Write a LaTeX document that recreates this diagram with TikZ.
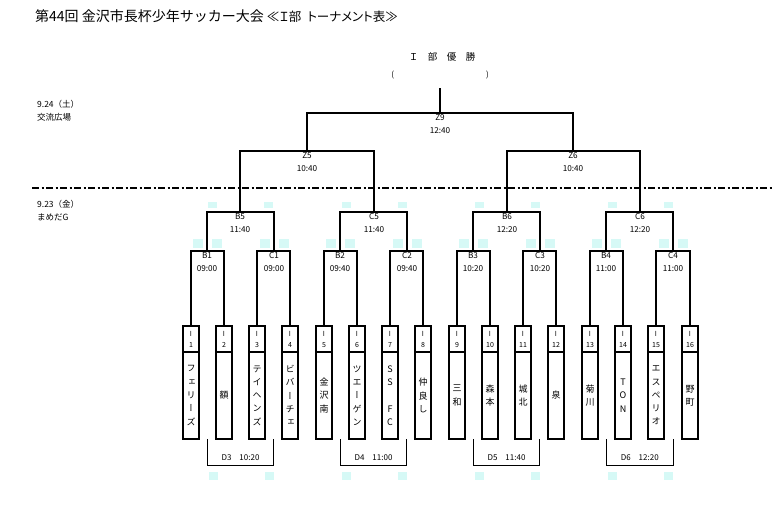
\documentclass[tikz,border=0pt]{standalone}
\usepackage{fontspec}
\setmainfont{Noto Sans CJK JP}
\newfontfamily\tatefont[RawFeature=+vert]{Noto Sans CJK JP}
\newfontfamily\propfont[RawFeature=+palt]{Noto Sans CJK JP}
\usetikzlibrary{calc}
\usetikzlibrary{backgrounds}
\definecolor{blotcyan}{RGB}{214,249,246}

\tikzset{
 match/.style={anchor=north,inner xsep=0pt,inner ysep=1.5pt,align=center,font=\fontsize{8.2}{13}\selectfont},
 numbox/.style={draw,line width=2pt,outer sep=0pt,minimum width=16pt,minimum height=26pt,inner sep=0pt,align=center,font=\fontsize{7}{11}\selectfont},
 namebox/.style={draw,line width=2pt,outer sep=0pt,minimum width=16pt,minimum height=87pt,inner sep=0pt,align=center,font=\tatefont\fontsize{9}{13.3}\selectfont},
 dlabel/.style={inner sep=0pt,font=\fontsize{8}{10}\selectfont},
 bracket/.style={black,line width=2pt},
 dbracket/.style={black,line width=1pt},
 blot/.style={fill=blotcyan,draw=none},
}

\begin{document}
\begin{tikzpicture}[x=1pt,y=-1pt]
\useasboundingbox (0,0) rectangle (773,505);

% title and headings
\node[anchor=west,inner sep=0pt,font=\fontsize{14}{16}\selectfont] (title) at (35,16) {第44回 金沢市長杯少年サッカー大会\hspace{3pt}{\propfont\fontsize{12.5}{14}\selectfont ≪Ｉ部\hspace{6pt}トーナメント表≫}};
\node[font=\fontsize{9.5}{11}\selectfont] (yusho) at (442,57) {Ｉ　部　優　勝};
\node[font=\fontsize{8}{10}\selectfont] (paren) at (440,75) {(\hspace{92pt})};
\node[anchor=north west,align=left,inner sep=0pt,font=\fontsize{8.5}{13}\selectfont] (day1) at (37,100) {9.24（土）\\交流広場};
\node[anchor=north west,align=left,inner sep=0pt,font=\fontsize{8.5}{13}\selectfont] (day2) at (37,200) {9.23（金）\\まめだG};
\draw[line width=2pt,dash pattern=on 7pt off 2.5pt on 2pt off 2.5pt] (32,188) -- (773,188);

% teams
\foreach \n/\name in {1/{フ\\ェ\\リ\\ー\\ズ}, 2/額, 3/{テ\\イ\\ヘ\\ン\\ズ}, 4/{ビ\\バ\\ー\\チ\\ェ},
  5/{金\\沢\\南}, 6/{ツ\\エ\\ー\\ゲ\\ン}, 7/{S\\S\\~\\F\\C}, 8/{仲\\良\\し},
  9/{三\\和}, 10/{森\\本}, 11/{城\\北}, 12/泉, 13/{菊\\川}, 14/{T\\O\\N},
  15/{エ\\ス\\ペ\\リ\\オ}, 16/{野\\町}} {
 \node[numbox] (n\n) at ({round(190.5+(\n-1)*33.27)},339) {I\\\n};
 \node[namebox,anchor=north] (t\n) at (n\n.south) {\name};
}

% matches
\foreach \m/\t/\x/\y/\a/\b in {B1/09:00/207/251/n1/n2, C1/09:00/274/251/n3/n4, B2/09:40/340/251/n5/n6, C2/09:40/407/251/n7/n8,
  B3/10:20/473/251/n9/n10, C3/10:20/540/251/n11/n12, B4/11:00/606/251/n13/n14, C4/11:00/673/251/n15/n16,
  B5/11:40/240/212/B1/C1, C5/11:40/374/212/B2/C2, B6/12:20/507/212/B3/C3, C6/12:20/640/212/B4/C4,
  Z5/10:40/307/151/B5/C5, Z6/10:40/573/151/B6/C6, Z9/12:40/440/113/Z5/Z6} {
 \node[match] (\m) at (\x,\y) {\m\\\t};
 \draw[bracket] (\a.north) |- (\m.north) -| (\b.north);
}
\coordinate (win) at (440,88);
\draw[bracket] (Z9.north) -- (win);

% day 2 matches below
\foreach \d/\t/\a/\b/\c/\e in {D3/10:20/1/2/3/4, D4/11:00/5/6/7/8, D5/11:40/9/10/11/12, D6/12:20/13/14/15/16} {
 \coordinate (\d l) at ($(t\a.south)!0.5!(t\b.south)$);
 \coordinate (\d r) at ($(t\c.south)!0.5!(t\e.south)$);
 \node[dlabel] (\d) at ($(\d l)!0.5!(\d r)+(0,19)$) {\d\quad\t};
 \draw[dbracket] (\d l) -- ++(0,26) -| (\d r);
 \fill[blot] ($(\d l)+(1,33)$) rectangle ++(9,8);
 \fill[blot] ($(\d r)+(-9,33)$) rectangle ++(9,8);
}

% faint marks
\begin{scope}[on background layer]
\foreach \m in {B1,C1,B2,C2,B3,C3,B4,C4} {
 \fill[blot] ($(\m.north)+(-14,-12)$) rectangle ++(10,9);
 \fill[blot] ($(\m.north)+(5,-12)$) rectangle ++(10,9);
}
\foreach \m in {B5,C5,B6,C6} {
 \fill[blot] ($(\m.north)+(-32,-10)$) rectangle ++(9,6);
 \fill[blot] ($(\m.north)+(24,-10)$) rectangle ++(9,6);
}
\end{scope}
\end{tikzpicture}
\end{document}
